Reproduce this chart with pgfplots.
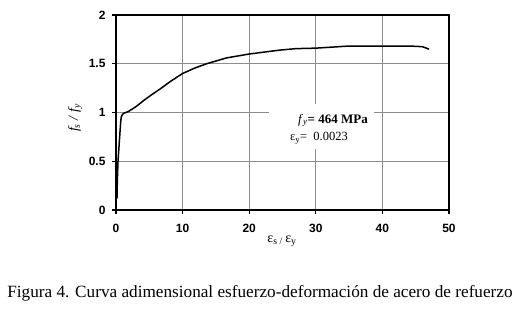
\documentclass[border=0pt]{standalone}
\usepackage{pgfplots}
\pgfplotsset{compat=1.18}
\usepackage{fontspec}
\setmainfont{Liberation Serif}
\setsansfont{Liberation Sans}
\begin{document}
\begin{tikzpicture}
\path[use as bounding box] (0pt,0pt) rectangle (522pt,311pt);
\begin{axis}[
  at={(116pt,101pt)}, anchor=south west,
  width=333pt, height=195pt, scale only axis,
  xmin=0, xmax=50, ymin=0, ymax=2,
  xtick={0,10,20,30,40,50}, ytick={0,0.5,1,1.5,2},
  tick pos=left, tick align=outside,
  major tick length=4pt,
  grid=major,
  major grid style={gray!90, line width=0.6pt},
  axis line style={black, line width=1.1pt},
  tick style={black, line width=1.1pt},
  /pgf/number format/assume math mode=true,
  ticklabel style={font=\sffamily\bfseries\fontsize{12}{14}\selectfont},
  xticklabel style={yshift=-7pt},
  yticklabel style={xshift=-3pt},
  clip=false,
]
\addplot[black, line width=1.5pt, line join=round] coordinates {
(0.15,0.12)(0.2,0.3)(0.3,0.5)(0.5,0.7)(0.7,0.9)(0.8,0.96)(1.1,0.99)(1.85,1.01)(3,1.06)(4.1,1.12)(5.3,1.18)(6.6,1.24)(8.2,1.32)(10,1.40)(11.8,1.455)(13.6,1.50)(16.6,1.56)(20,1.60)(22.3,1.62)(24.6,1.64)(27,1.655)(30,1.66)(34.6,1.68)(40,1.68)(44.6,1.68)(46,1.675)(47,1.65)
};
\fill[white] (axis cs:22.95,0.626) rectangle (axis cs:38.7,1.087);
\node[anchor=base west, inner sep=0pt, font=\fontsize{13}{15}\selectfont] at (axis cs:27.3,0.892) {\textit{f}\textsubscript{\textit{y}}\textbf{= 464 MPa}};
\node[anchor=base west, inner sep=0pt, font=\fontsize{12.5}{15}\selectfont] at (axis cs:26.1,0.708) {ε\textsubscript{y}=\ \ 0.0023};
\end{axis}
\node[font=\fontsize{14}{16}\selectfont, rotate=90] at (75pt,193pt) {\textit{f\textsubscript{s} / f\textsubscript{y}}};
\node[font=\fontsize{14}{16}\selectfont] at (282pt,70pt) {ε\textsubscript{s / }ε\textsubscript{y}};
\node[font=\fontsize{17.2}{20}\selectfont] at (260pt,18pt) {Figura 4. Curva adimensional esfuerzo-deformación de acero de refuerzo};
\end{tikzpicture}
\end{document}
